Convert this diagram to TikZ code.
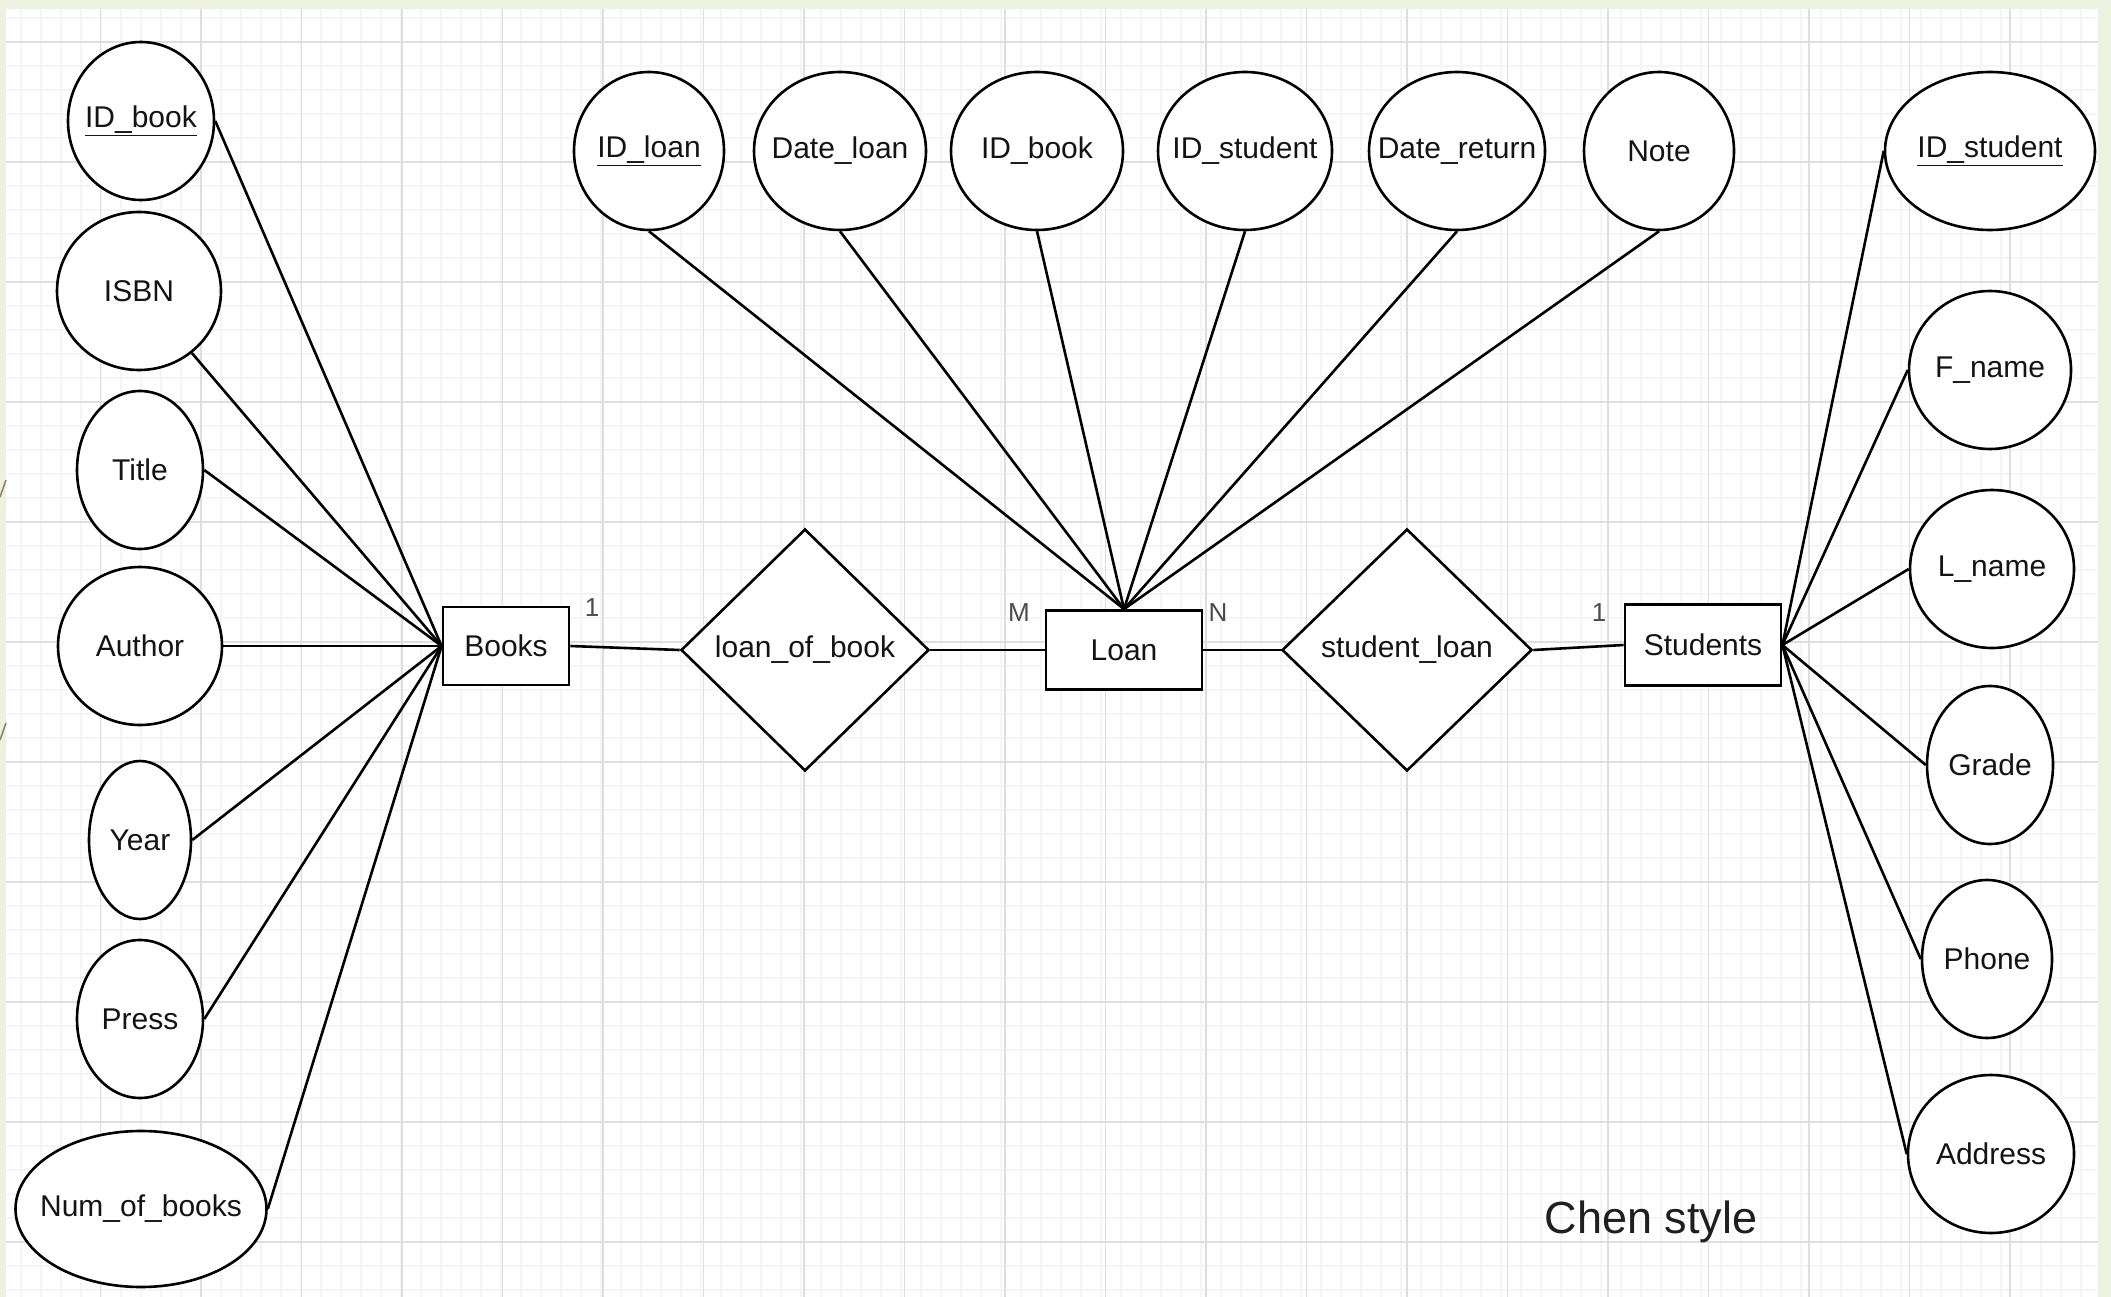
\documentclass[tikz,border=0pt]{standalone}
\usepackage{fontspec}
\setmainfont{Liberation Sans}
\usetikzlibrary{shapes.geometric}
\definecolor{framecol}{HTML}{EDF1E0}
\definecolor{majgrid}{HTML}{DEDEDE}
\definecolor{mingrid}{HTML}{F5F5F5}
\definecolor{decocol}{HTML}{8C7F66}
\newcommand{\zw}[1]{\makebox[0pt]{#1}}
\begin{document}
\begin{tikzpicture}[x=1pt,y=-1pt]
\tikzset{
  attr/.style={ellipse, draw, line width=2.6pt, fill=white, inner sep=0pt,
    font=\fontsize{30}{36}\selectfont, text=black!92},
  ent/.style={rectangle, draw, line width=2.8pt, fill=white, inner sep=0pt,
    font=\fontsize{30}{36}\selectfont, text=black!92},
  rel/.style={diamond, draw, line width=2.6pt, fill=white, inner sep=0pt,
    font=\fontsize{30}{36}\selectfont, text=black!92},
  conn/.style={line width=2.6pt},
  card/.style={font=\fontsize{26}{30}\selectfont, text=black!70, inner sep=0pt},
  note/.style={font=\fontsize{45}{54}\selectfont, text=black!88, inner sep=0pt}
}
\useasboundingbox (0,0) rectangle (2111,1297);
\fill[framecol] (0,0) rectangle (2111,1297);
\fill[white] (6,9) rectangle (2098,1297);
\begin{scope}
  \clip (6,9) rectangle (2098,1297);
  \foreach \k in {0,...,105} \draw[mingrid, line width=1.2pt] ({1+\k*20},9) -- ({1+\k*20},1297);
  \foreach \k in {0,...,54} \draw[mingrid, line width=1.2pt] (6,{18+\k*24}) -- (2098,{18+\k*24});
  \foreach \k in {1,...,20} \draw[majgrid, line width=1.8pt] ({\k*100.5},9) -- ({\k*100.5},1297);
  \foreach \k in {0,...,10} \draw[majgrid, line width=1.8pt] (6,{42+\k*120}) -- (2098,{42+\k*120});
\end{scope}
\draw[decocol, line width=1.5pt] (0,497) -- (6,480);
\draw[decocol, line width=1.5pt] (0,740) -- (6,723);

% Books attributes
\node[attr, minimum width=146pt, minimum height=158pt] (lb1) at (141,121) {\zw{\underline{ID\_book}}};
\node[attr, minimum width=164pt, minimum height=158pt] (lb2) at (139,291) {\zw{ISBN}};
\node[attr, minimum width=126pt, minimum height=158pt] (lb3) at (140,470) {\zw{Title}};
\node[attr, minimum width=164pt, minimum height=158pt] (lb4) at (140,646) {\zw{Author}};
\node[attr, minimum width=102pt, minimum height=158pt] (lb5) at (140,840) {\zw{Year}};
\node[attr, minimum width=126pt, minimum height=158pt] (lb6) at (140,1019) {\zw{Press}};
\node[attr, minimum width=251pt, minimum height=156pt] (lb7) at (141,1209) {\zw{Num\_of\_books}};

% Loan attributes
\node[attr, minimum width=150pt, minimum height=158pt] (t1) at (649,151) {\zw{\underline{ID\_loan}}};
\node[attr, minimum width=172pt, minimum height=158pt] (t2) at (840,151) {\zw{Date\_loan}};
\node[attr, minimum width=172pt, minimum height=158pt] (t3) at (1037,151) {\zw{ID\_book}};
\node[attr, minimum width=174pt, minimum height=158pt] (t4) at (1245,151) {\zw{ID\_student}};
\node[attr, minimum width=176pt, minimum height=158pt] (t5) at (1457,151) {\zw{Date\_return}};
\node[attr, minimum width=150pt, minimum height=158pt] (t6) at (1659,151) {\zw{Note}};

% Students attributes
\node[attr, minimum width=210pt, minimum height=158pt] (r1) at (1990,151) {\zw{\underline{ID\_student}}};
\node[attr, minimum width=162pt, minimum height=158pt] (r2) at (1990,370) {\zw{F\_name}};
\node[attr, minimum width=164pt, minimum height=158pt] (r3) at (1992,569) {\zw{L\_name}};
\node[attr, minimum width=126pt, minimum height=158pt] (r4) at (1990,765) {\zw{Grade}};
\node[attr, minimum width=130pt, minimum height=158pt] (r5) at (1987,959) {\zw{Phone}};
\node[attr, minimum width=166pt, minimum height=158pt] (r6) at (1991,1154) {\zw{Address}};

% Entities and relationships
\node[ent, minimum width=126pt, minimum height=78pt] (books) at (506,646) {\zw{Books}};
\node[rel, minimum width=248pt, minimum height=242pt] (lob) at (805,650) {\zw{loan\_of\_book}};
\node[ent, minimum width=156pt, minimum height=79pt] (loan) at (1124,650) {\zw{Loan}};
\node[rel, minimum width=250pt, minimum height=242pt] (sl) at (1407,650) {\zw{student\_loan}};
\node[ent, minimum width=156pt, minimum height=81pt] (students) at (1703,645) {\zw{Students}};

% Connectors: Books
\draw[conn] (lb1.east) -- (books.west);
\draw[conn] (lb2) -- (books.west);
\draw[conn] (lb3.east) -- (books.west);
\draw[conn] (lb4.east) -- (books.west);
\draw[conn] (lb5.east) -- (books.west);
\draw[conn] (lb6.east) -- (books.west);
\draw[conn] (lb7.east) -- (books.west);
% Connectors: Loan
\foreach \n in {t1,t2,t3,t4,t5,t6} \draw[conn] (\n.south) -- (loan.north);
% Connectors: Students
\foreach \n in {r1,r2,r3,r4,r5,r6} \draw[conn] (\n.west) -- (students.east);
% Relationship lines
\draw[conn] (books.east) -- (lob.west);
\draw[conn] (lob.east) -- (loan.west);
\draw[conn] (loan.east) -- (sl.west);
\draw[conn] (sl.east) -- (students.west);

% Cardinalities
\node[card] (c1) at (592,608) {1};
\node[card] (c2) at (1019,613) {M};
\node[card] (c3) at (1218,613) {N};
\node[card] (c4) at (1599,613) {1};

\node[note] (chen) at (1651,1222) {Chen style};
\end{tikzpicture}
\end{document}
